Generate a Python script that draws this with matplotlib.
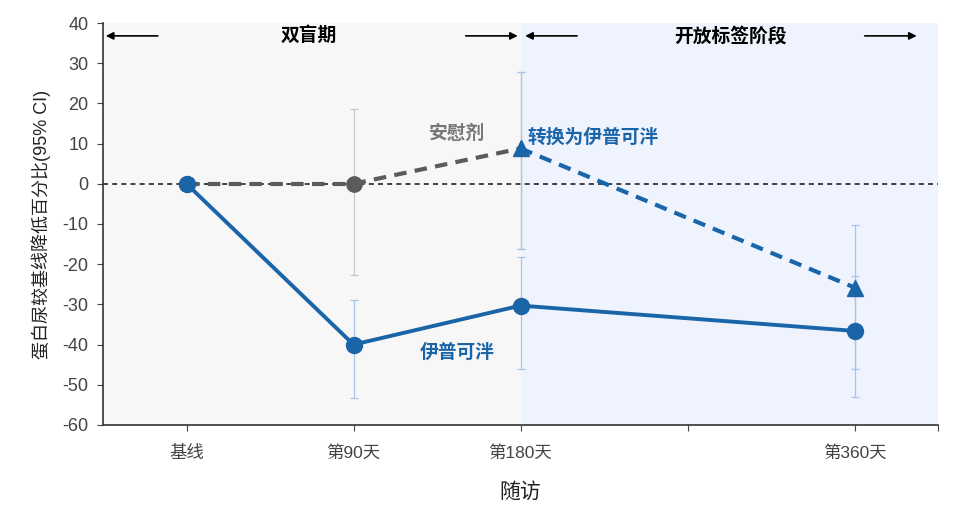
import matplotlib
matplotlib.use("Agg")
import matplotlib.pyplot as plt

plt.rcParams['font.family'] = ['Liberation Sans', 'Noto Sans CJK SC']
plt.rcParams['axes.unicode_minus'] = False

# 随访天数
days = [0, 90, 180, 270, 360]
tick_labels = ["基线", "第90天", "第180天", "", "第360天"]

# 伊普可泮组（实线）
ipt_days = [0, 90, 180, 360]
ipt_mean = [0, -40.0, -30.3, -36.6]
ipt_lo = [0, -53.2, -46.0, -53.0]
ipt_hi = [0, -29.0, -18.2, -23.0]

# 安慰剂组（双盲期）
pbo_days = [0, 90, 180]
pbo_mean = [0, 0, 8.8]
pbo_lo = [0, -22.8, -16.2]
pbo_hi = [0, 18.6, 27.8]

# 安慰剂转换为伊普可泮（开放标签）
sw_days = [180, 360]
sw_mean = [8.8, -25.8]
sw_lo = [-16.2, -46.0]
sw_hi = [27.8, -10.2]

blue = "#1a64a8"
grey = "#5b5b5b"

fig = plt.figure(figsize=(9.6, 5.15), dpi=100)
ax = fig.add_axes([0.1073, 0.1748, 0.8698, 0.7805])
ax.set_xlim(-45, 405)
ax.set_ylim(-60, 40)

# 背景分区
ax.axvspan(-45, 180, color="#f7f7f7", zorder=0, lw=0)
ax.axvspan(180, 405, color="#eff3fd", zorder=0, lw=0)

ax.axhline(0, color="#222222", ls=(0, (3, 2.5)), lw=1.2, zorder=1)

def ci(x, m, lo, hi, c):
    x2, m2, lo2, hi2 = [], [], [], []
    for a, b, l, h in zip(x, m, lo, hi):
        if l != h:
            x2.append(a); m2.append(b); lo2.append(b - l); hi2.append(h - b)
    ax.errorbar(x2, m2, yerr=[lo2, hi2], fmt="none", ecolor=c, elinewidth=0.9,
                capsize=3, capthick=0.9, zorder=2)

ci(pbo_days, pbo_mean, pbo_lo, pbo_hi, "#c8c8c8")
ci(ipt_days, ipt_mean, ipt_lo, ipt_hi, "#a8c4e8")
ci(sw_days, sw_mean, sw_lo, sw_hi, "#a8c4e8")

ax.plot(pbo_days[:2], pbo_mean[:2], color=grey, lw=3, ls=(0, (3, 2)),
        marker="o", ms=11, zorder=3)
ax.plot(pbo_days[1:], pbo_mean[1:], color=grey, lw=3, ls=(0, (3, 2)), zorder=3)
ax.plot(sw_days, sw_mean, color=blue, lw=3, ls=(0, (3, 2)),
        marker="^", ms=12, zorder=4)
ax.plot(ipt_days, ipt_mean, color=blue, lw=2.8, marker="o", ms=11.5, zorder=5)

# 文本标注
ax.text(146, 12.5, "安慰剂", color="#777777", fontsize=13.5, fontweight="bold",
        ha="center", va="center")
ax.text(184, 11.6, "转换为伊普可泮", color=blue, fontsize=13.5, fontweight="bold",
        ha="left", va="center")
ax.text(146, -42, "伊普可泮", color=blue, fontsize=13.5, fontweight="bold",
        ha="center", va="center")

# 阶段箭头
ay = 36.8
arr = dict(arrowstyle="-|>", color="black", lw=1.2, mutation_scale=11)
ax.annotate("", xy=(-45, ay), xytext=(-14, ay), arrowprops=arr)
ax.annotate("", xy=(180, ay), xytext=(149, ay), arrowprops=arr)
ax.text(66, ay, "双盲期", fontsize=13.5, fontweight="bold", ha="center", va="center")
ax.annotate("", xy=(181, ay), xytext=(212, ay), arrowprops=arr)
ax.annotate("", xy=(395, ay), xytext=(364, ay), arrowprops=arr)
ax.text(293, ay, "开放标签阶段", fontsize=13.5, fontweight="bold", ha="center", va="center")

ax.set_xticks(days + [405])
ax.set_xticklabels(tick_labels + [""])
ax.set_yticks(range(-60, 41, 10))
ax.tick_params(colors="#444444", length=4.5)
ax.tick_params(axis="x", labelsize=12.5, pad=10)
ax.tick_params(axis="y", labelsize=13, pad=6)
for s in ["top", "right"]:
    ax.spines[s].set_visible(False)
for s in ["left", "bottom"]:
    ax.spines[s].set_color("#333333")
    ax.spines[s].set_linewidth(1.2)

ax.set_ylabel("蛋白尿较基线降低百分比(95% CI)", fontsize=13, color="#222222", labelpad=8)
ax.set_xlabel("随访", fontsize=15, color="#222222", labelpad=15)

fig.savefig("out.png", dpi=100)
